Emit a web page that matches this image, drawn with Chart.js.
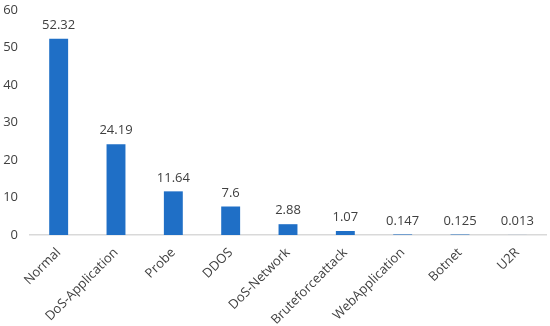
<!DOCTYPE html>
<html>
<head>
<script src="https://cdn.jsdelivr.net/npm/chart.js"></script>
<style>
  body { margin: 0; padding: 0; background: #fff; }
  #wrap { width: 550px; height: 326px; }
</style>
</head>
<body>
<div id="wrap"><canvas id="chart"></canvas></div>
<script>
// Chart data
const categories = ['Normal', 'DoS-Application', 'Probe', 'DDOS', 'DoS-Network', 'Bruteforceattack', 'WebApplication', 'Botnet', 'U2R'];
const values = [52.32, 24.19, 11.64, 7.6, 2.88, 1.07, 0.147, 0.125, 0.013];
const valueLabels = ['52.32', '24.19', '11.64', '7.6', '2.88', '1.07', '0.147', '0.125', '0.013'];

// Draw value labels above each bar
const barLabels = {
    id: 'barLabels',
    afterDatasetsDraw(chart) {
        const ctx = chart.ctx;
        const meta = chart.getDatasetMeta(0);
        ctx.save();
        ctx.font = '13px "Open Sans", sans-serif';
        ctx.fillStyle = '#404040';
        ctx.textAlign = 'center';
        ctx.textBaseline = 'bottom';
        meta.data.forEach((bar, i) => {
            ctx.fillText(valueLabels[i], bar.x, bar.y - 7);
        });
        ctx.restore();
    }
};

new Chart(document.getElementById('chart').getContext('2d'), {
    type: 'bar',
    data: {
        labels: categories,
        datasets: [{
            data: values,
            backgroundColor: '#1F6FC6',
            barPercentage: 0.66,
            categoryPercentage: 0.5
        }]
    },
    options: {
        responsive: true,
        maintainAspectRatio: false,
        animation: false,
        layout: { padding: { top: 10, right: 4, left: 0, bottom: 0 } },
        plugins: {
            legend: { display: false },
            tooltip: { enabled: false }
        },
        scales: {
            x: {
                grid: { display: false, drawTicks: false },
                border: { display: true, color: '#D9D9D9', width: 1.5 },
                afterFit(scale) {
                    scale.height = 91;
                    scale.paddingLeft = 0;
                    scale.paddingRight = 0;
                },
                ticks: {
                    minRotation: 45,
                    maxRotation: 45,
                    padding: 10,
                    color: '#404040',
                    font: { size: 13, family: '"Open Sans", sans-serif' }
                }
            },
            y: {
                min: 0,
                max: 60,
                grid: { display: false, drawTicks: false },
                border: { display: false },
                afterFit(scale) {
                    scale.width = 30;
                    scale.paddingTop = 0;
                    scale.paddingBottom = 0;
                },
                ticks: {
                    stepSize: 10,
                    padding: 12,
                    color: '#404040',
                    font: { size: 13, family: '"Open Sans", sans-serif' }
                }
            }
        }
    },
    plugins: [barLabels]
});
</script>
</body>
</html>
